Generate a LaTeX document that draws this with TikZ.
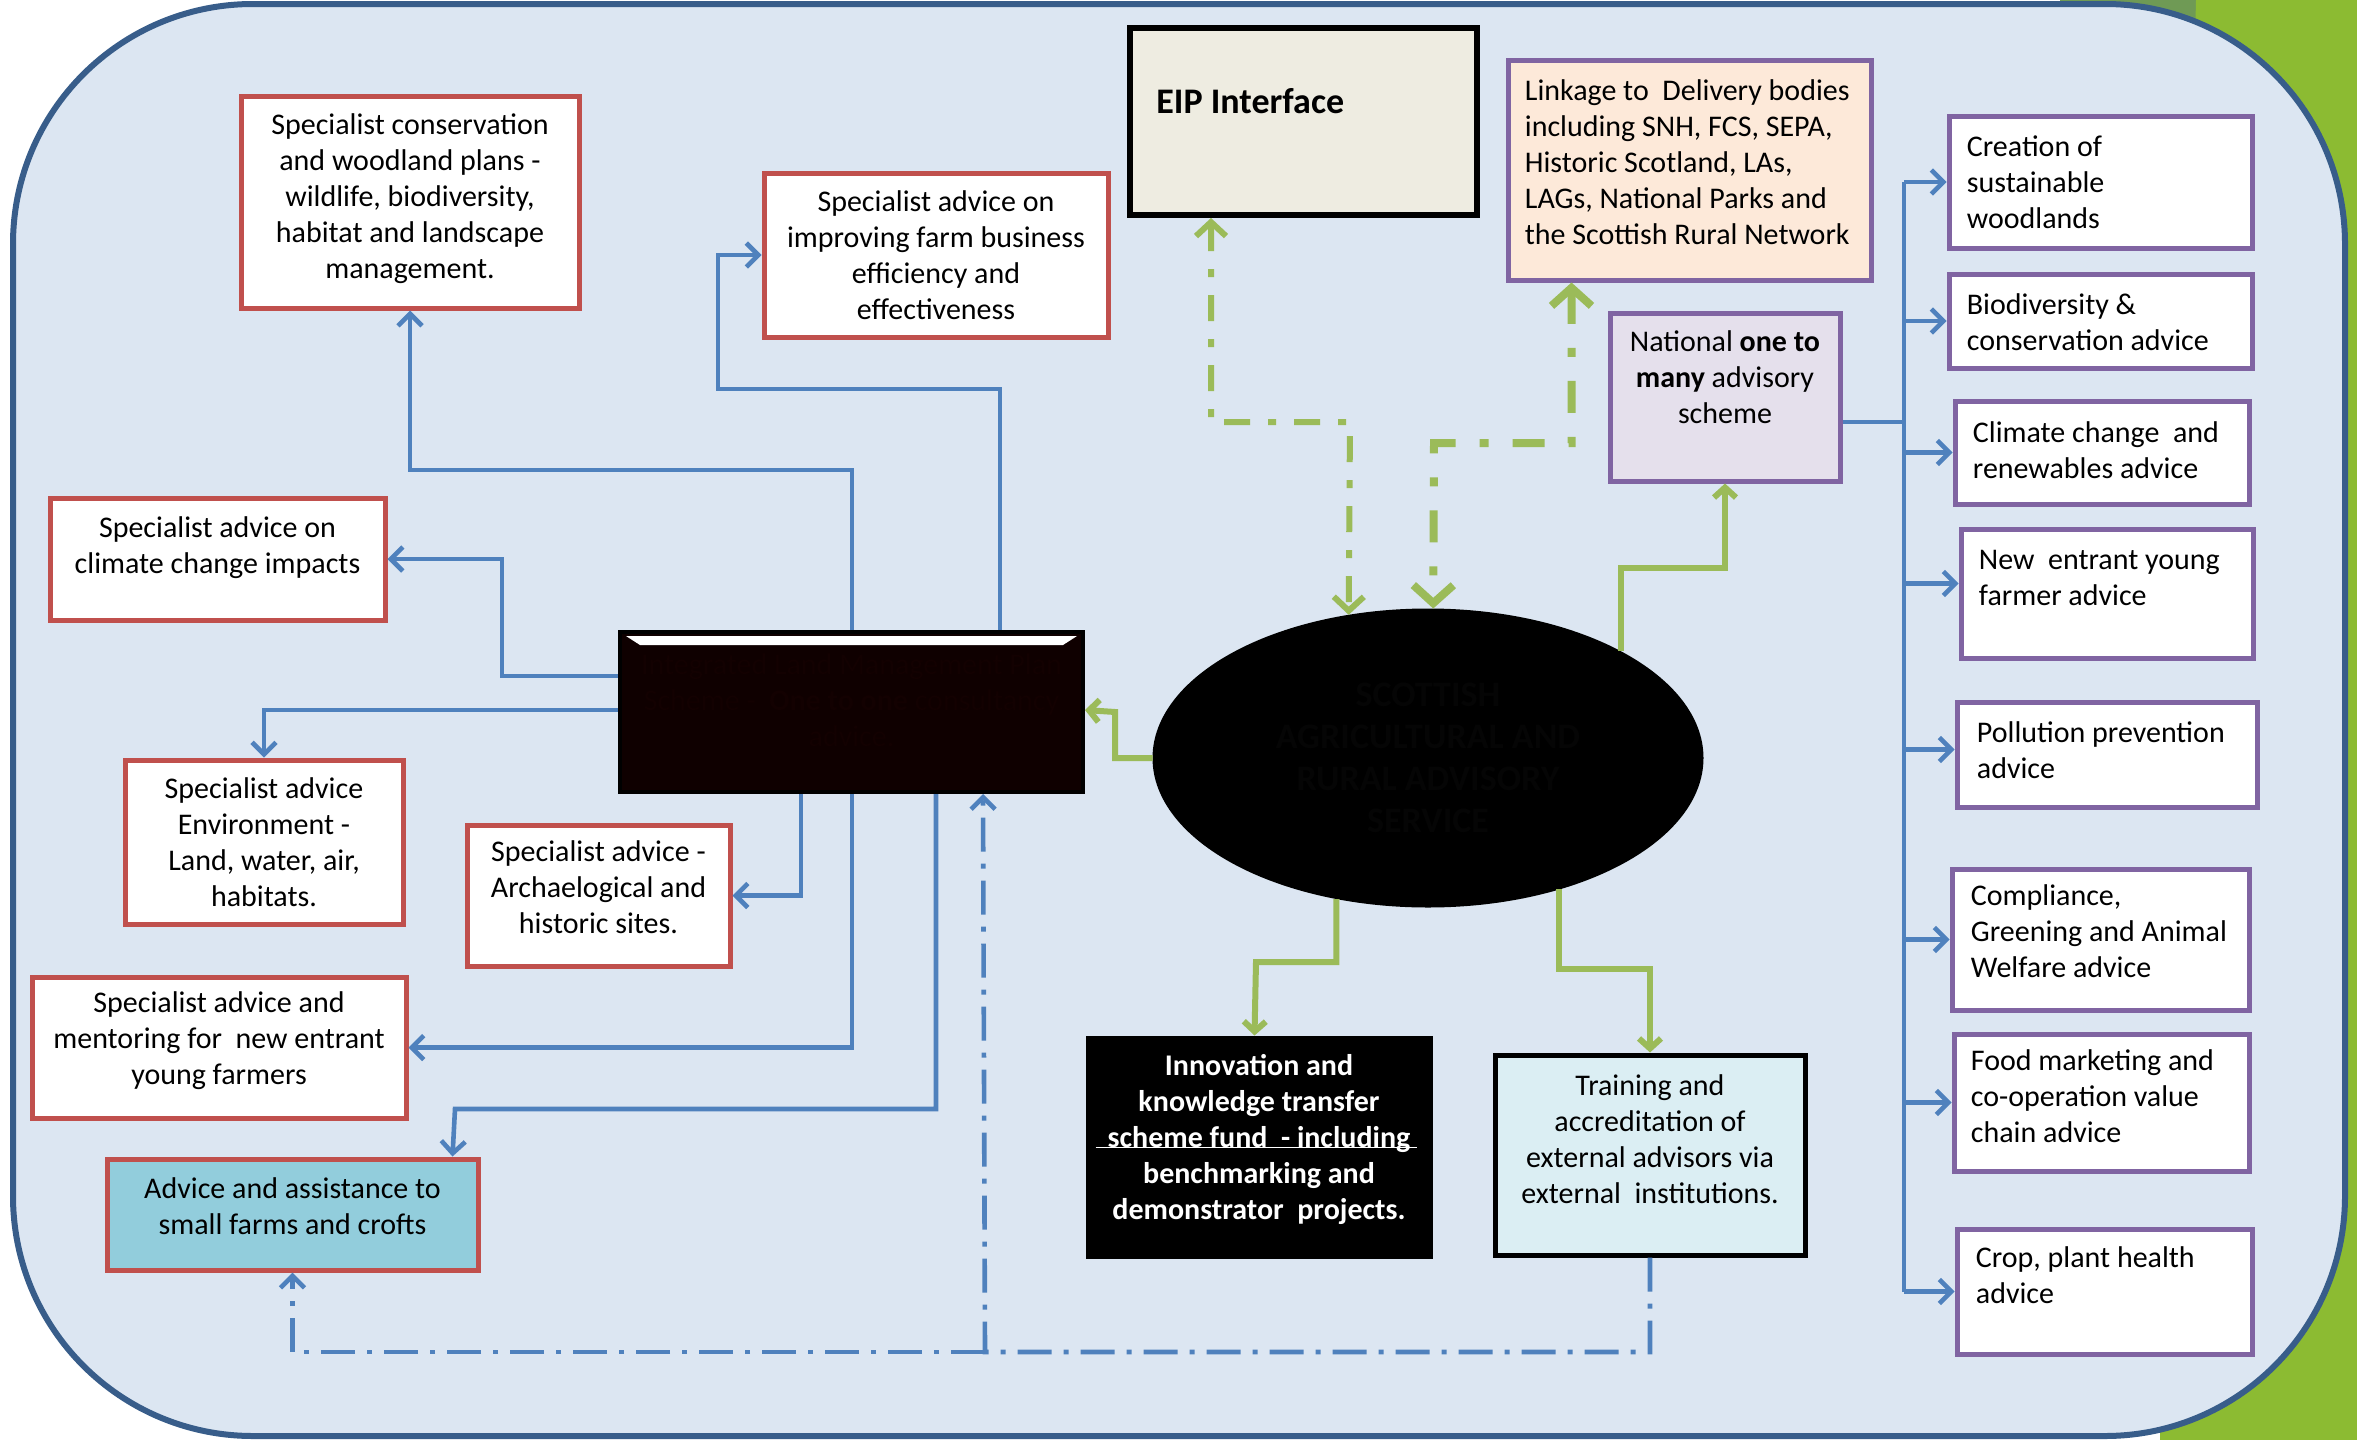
\documentclass[tikz,border=0pt]{standalone}
\usepackage{fontspec}
\setmainfont{Carlito}
\usetikzlibrary{arrows.meta,calc,fit,shapes.geometric}
\definecolor{bgblue}{HTML}{DCE6F2}
\definecolor{frame}{HTML}{385D8A}
\definecolor{lgreen}{HTML}{8CBB32}
\definecolor{dgreen}{HTML}{6F9A55}
\definecolor{bluel}{HTML}{4F81BD}
\definecolor{redb}{HTML}{C0504D}
\definecolor{purp}{HTML}{8064A2}
\definecolor{greenl}{HTML}{9BBB59}
\definecolor{cyanf}{HTML}{92CDDC}
\definecolor{peach}{HTML}{FDE9D9}
\definecolor{lav}{HTML}{E5E0EC}
\definecolor{lcyan}{HTML}{DBEEF3}
\definecolor{eipf}{HTML}{EEECE1}
\definecolor{ilmf}{HTML}{0F0000}
\definecolor{ilmt}{HTML}{130101}
\definecolor{ellt}{HTML}{050505}

\newcommand{\mybox}[6]{\node[#6, fit={(#2,#3) (#4,#5)}, inner sep=0pt] (#1) {};}

\begin{document}
\begin{tikzpicture}[x=0.5pt,y=-0.5pt,
  redbox/.style={draw=redb, line width=2.5pt, fill=white},
  purbox/.style={draw=purp, line width=2.5pt, fill=white},
  tx/.style={font=\fontsize{15}{18}\selectfont, align=center, inner sep=0pt},
  rtx/.style={font=\fontsize{15}{18}\selectfont, align=left, inner sep=0pt, anchor=north west},
  bl/.style={draw=bluel, line width=2.3pt},
  bla/.style={bl, -{Straight Barb[length=6pt,width=12pt]}},
  bdda/.style={draw=bluel, line width=2.3pt, dash pattern=on 17pt off 6pt on 2.5pt off 6pt, -{Straight Barb[length=6pt,width=12pt]}},
  gla/.style={draw=greenl, line width=3pt, -{Straight Barb[length=5pt,width=11pt]}},
  gddA/.style={draw=greenl, line width=4pt, dash pattern=on 16pt off 12pt on 4.5pt off 12pt, {Straight Barb[length=9pt,width=20pt]}-{Straight Barb[length=9pt,width=20pt]}},
  gddB/.style={draw=greenl, line width=3pt, dash pattern=on 13pt off 9pt on 4pt off 9pt, {Straight Barb[length=7pt,width=15pt]}-{Straight Barb[length=7pt,width=15pt]}}
]
\useasboundingbox (0,0) rectangle (2357,1440);
% background
\fill[white] (0,0) rectangle (2357,1440);
\fill[dgreen] (2060,0) rectangle (2200,60);
\fill[lgreen] (2196,0) -- (2357,0) -- (2357,1440) -- (2160,1440) -- cycle;
\draw[line width=3pt, draw=frame, fill=bgblue, rounded corners=120pt] (13,4) rectangle (2345,1436);

% left red boxes
\mybox{A}{241}{96}{579}{308}{redbox}
\node[tx] (At) at ($(A)+(0,-3)$) {Specialist conservation\\ and woodland plans -\\ wildlife, biodiversity,\\ habitat and landscape\\ management.};
\mybox{G}{764}{173}{1108}{337}{redbox}
\node[tx] (Gt) at (G) {Specialist advice on\\ improving farm business\\ efficiency and\\ effectiveness};
\mybox{B}{50}{498}{385}{620}{redbox}
\node[tx] (Bt) at ($(B)+(0,-11)$) {Specialist advice on\\ climate change impacts};
\mybox{C}{125}{760}{403}{924}{redbox}
\node[tx] (Ct) at (C) {Specialist advice\\ Environment -\\ Land, water, air,\\ habitats.};
\mybox{D}{467}{825}{730}{966}{redbox}
\node[tx] (Dt) at ($(D)+(0,-8)$) {Specialist advice -\\ Archaelogical and\\ historic sites.};
\mybox{E}{32}{977}{406}{1118}{redbox}
\node[tx] (Et) at ($(E)+(0,-7)$) {Specialist advice and\\ mentoring for\ \ new entrant\\ young farmers};
\mybox{F}{107}{1159}{478}{1270}{redbox, fill=cyanf}
\node[tx] (Ft) at ($(F)+(0,-8)$) {Advice and assistance to\\ small farms and crofts};

% central black rectangle
\mybox{ilm}{620}{632}{1083}{792}{draw=black, line width=2pt, fill=ilmf}
\fill[white] ($(ilm.north west)+(8,6)$) -- ($(ilm.north east)+(-8,6)$) -- ($(ilm.north east)+(-22,15)$) -- ($(ilm.north west)+(22,15)$) -- cycle;
\node[tx, text=ilmt] (ilmt) at ($(ilm)+(0,-12)$) {Integrated Land Management Plan\\ Scheme -\ \ \textbf{One to one} consultancy\\ advice.};

% EIP
\mybox{eip}{1130}{28}{1477}{215}{draw=black, line width=3pt, fill=eipf}
\node[anchor=base west, inner sep=0pt, font=\bfseries\fontsize{18}{21}\selectfont] (eipt) at (1156,113) {EIP Interface};

% Linkage
\mybox{L}{1508}{60}{1871}{280}{purbox, fill=peach}
\node[rtx] (Lt) at ($(L.north west)+(19,17)$) {\rule{0pt}{13pt}Linkage to\ \ Delivery bodies\\ including SNH, FCS, SEPA,\\ Historic Scotland, LAs,\\ LAGs, National Parks and\\ the Scottish Rural Network};

% National one to many
\mybox{N}{1610}{313}{1840}{481}{purbox, fill=lav}
\node[tx] (Nt) at ($(N)+(0,-20)$) {National \textbf{one to}\\ \textbf{many} advisory\\ scheme};

% right column
\mybox{R1}{1949}{116}{2252}{248}{purbox}
\node[rtx] (R1t) at ($(R1.north west)+(20,17)$) {\rule{0pt}{13pt}Creation of\\ sustainable\\ woodlands};
\mybox{R2}{1949}{274}{2252}{368}{purbox}
\node[rtx] (R2t) at ($(R2.north west)+(20,17)$) {\rule{0pt}{13pt}Biodiversity \&\\ conservation advice};
\mybox{R3}{1955}{401}{2249}{504}{purbox}
\node[rtx] (R3t) at ($(R3.north west)+(20,18)$) {\rule{0pt}{13pt}Climate change\ \ and\\ renewables advice};
\mybox{R4}{1961}{529}{2253}{658}{purbox}
\node[rtx] (R4t) at ($(R4.north west)+(20,17)$) {\rule{0pt}{13pt}New\ \ entrant young\\ farmer advice};
\mybox{R5}{1957}{702}{2257}{807}{purbox}
\node[rtx] (R5t) at ($(R5.north west)+(22,17)$) {\rule{0pt}{13pt}Pollution prevention\\ advice};
\mybox{R6}{1952}{869}{2249}{1010}{purbox}
\node[rtx] (R6t) at ($(R6.north west)+(21,13)$) {\rule{0pt}{13pt}Compliance,\\ Greening and Animal\\ Welfare advice};
\mybox{R7}{1954}{1034}{2249}{1171}{purbox}
\node[rtx] (R7t) at ($(R7.north west)+(19,13)$) {\rule{0pt}{13pt}Food marketing and\\ co-operation value\\ chain advice};
\mybox{R8}{1957}{1229}{2252}{1354}{purbox}
\node[rtx] (R8t) at ($(R8.north west)+(21,15)$) {\rule{0pt}{13pt}Crop, plant health\\ advice};

% ellipse
\node[ellipse, draw=black, line width=1.5pt, fill=black, minimum width=274pt, minimum height=148pt, inner sep=0pt,
      font=\bfseries\fontsize{18}{21}\selectfont, text=ellt, align=center] (S) at (1428,758)
      {SCOTTISH\\ AGRICULTURAL AND\\ RURAL ADVISORY\\ SERVICE};

% Innovation
\mybox{I}{1087}{1037}{1431}{1257}{draw=black, line width=1.5pt, fill=black}
\node[tx, text=white, font=\bfseries\fontsize{15}{18}\selectfont] (It) at ($(I)+(0,-8)$) {Innovation and\\ knowledge transfer\\ scheme fund\ \ - including\\ benchmarking and\\ demonstrator\ \ projects.};
\draw[white, line width=0.8pt] ($(I.north west)+(10,112)$) -- ($(I.north east)+(-16,112)$);

% Training
\mybox{T}{1495}{1055}{1805}{1255}{draw=black, line width=2.5pt, fill=lcyan}
\node[tx] (Tt) at ($(T)+(0,-16)$) {Training and\\ accreditation of\\ external advisors via\\ external\ \ institutions.};

% ---------- blue connectors ----------
\draw[bla] ($(ilm.north west)+(234,0)$) |- (410,470) -- (A.south);
\draw[bla] ($(ilm.north west)+(382,0)$) |- (718,389) |- (G.west);
\draw[bla] ($(ilm.north west)+(0,46)$) -| (502,559) -- (B.east);
\draw[bla] ($(ilm.north west)+(0,80)$) -| (C.north);
\draw[bla] ($(ilm.south west)+(183,0)$) |- (D.east);
\draw[bla] ($(ilm.south west)+(234,0)$) |- (E.east);
\draw[bla] ($(ilm.south west)+(318,0)$) |- (455,1109) -- ($(F.north west)+(348,0)$);
\coordinate (j1) at (985,1352);
\draw[bdda] (T.south) |- (j1) -- ($(ilm.south west)+(365,0)$);
\draw[bdda] (j1) -| (F.south);

% right spine
\coordinate (spine) at (1904,0);
\coordinate (nj) at (1904,422);
\draw[bl] (N.east |- nj) -- (nj);
\draw[bl] (R1.west -| spine) -- (R8.west -| spine);
\foreach \r/\dy in {R1/0,R2/0,R3/0,R4/-10,R5/-5,R6/0,R7/0,R8/0}{
  \draw[bla] ($(\r.west -| spine)+(0,\dy)$) -- ($(\r.west)+(0,\dy)$);
}

% ---------- green connectors ----------
\draw[gla] (S.west) -| (1115,712) -- ($(ilm.north east)+(0,80)$);
\draw[gla] (S.29) |- (1725,568) -- (N.south);
\draw[gla] (S.237) |- (1256,962) -- ($(I.north west)+(169,0)$);
\draw[gla] (S.315) |- (1650,969) -- (T.north);
\draw[gddB] ($(eip.south west)+(84,0)$) |- (1350,422) -- (S.119);
\draw[gddA] ($(L.south west)+(66,0)$) |- (1434,443) -- (S.88);
\end{tikzpicture}
\end{document}
